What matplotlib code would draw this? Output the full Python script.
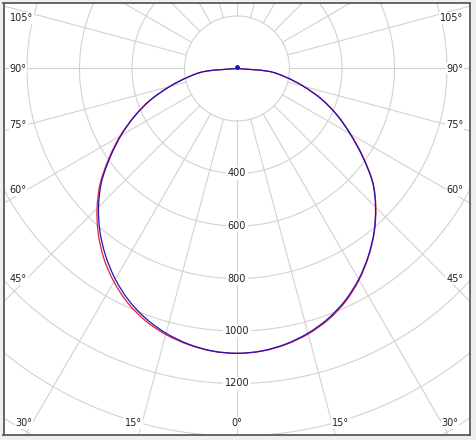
import numpy as np
import matplotlib
matplotlib.use("Agg")
import matplotlib.pyplot as plt
from matplotlib.path import Path
from matplotlib.patches import PathPatch

# ---- data -------------------------------------------------------------
angles = [-90, -85, -80, -75, -70, -65, -60, -55, -50, -45, -40, -35, -30, -25, -20, -15, -10, -5,
          0, 5, 10, 15, 20, 25, 30, 35, 40, 45, 50, 55, 60, 65, 70, 75, 80, 85, 90]
# C90-C270 plane (blue)
blue_cd = [0, 120, 190, 265, 350, 430, 510, 590, 674, 746, 812, 872, 927, 975, 1014, 1044, 1066, 1080,
           1085, 1080, 1066, 1044, 1014, 975, 927, 872, 812, 746, 674, 583, 497, 420, 343, 262, 188, 118, 0]
# C0-C180 plane (red)
red_cd = [0, 118, 190, 266, 352, 432, 514, 595, 680, 754, 822, 884, 938, 985, 1022, 1049, 1068, 1081,
          1085, 1081, 1068, 1047, 1018, 979, 930, 874, 814, 748, 676, 586, 500, 422, 344, 263, 188, 118, 0]
back_angle = 180
back_cd = 6

ring_values = [200, 400, 600, 800, 1000, 1200, 1400, 1600, 1800]
ring_labels = [400, 600, 800, 1000, 1200]
spoke_angles = list(range(0, 360, 15))
angle_labels = [0, 15, 30, 45, 60, 75, 90, 105]

# ---- figure -----------------------------------------------------------
W, H = 476, 440
fig = plt.figure(figsize=(W / 100, H / 100), dpi=100, facecolor="#efefef")
px_left, px_right, px_top, px_bottom = 3.5, 470.0, 3.0, 435.0
ax = fig.add_axes([px_left / W, (H - px_bottom) / H,
                   (px_right - px_left) / W, (px_bottom - px_top) / H])
ax.set_facecolor("white")

scale = 0.2625          # pixels per cd
cx, cy = 237.0, 68.5    # pole position in pixels
ax.set_xlim((px_left - cx) / scale, (px_right - cx) / scale)
ax.set_ylim(-(px_bottom - cy) / scale, (cy - px_top) / scale)
ax.set_aspect("equal", adjustable="box")
ax.set_xticks([])
ax.set_yticks([])
for s in ax.spines.values():
    s.set_color("#5a5a5a")
    s.set_linewidth(1.3)

grid_col = "#d2d2d2"
t = np.linspace(0, 2 * np.pi, 721)
for r in ring_values:
    ax.plot(r * np.sin(t), -r * np.cos(t), color=grid_col, lw=0.8, zorder=1)
r_in, r_out = ring_values[0], 2200
for a in spoke_angles:
    th = np.radians(a)
    ax.plot([r_in * np.sin(th), r_out * np.sin(th)],
            [-r_in * np.cos(th), -r_out * np.cos(th)], color=grid_col, lw=0.8, zorder=1)


def smooth_polar_path(ang_deg, cd):
    """Smooth (Catmull-Rom as cubic Bezier) path through the measured points."""
    th = np.radians(ang_deg)
    cd = np.asarray(cd, float)
    P = np.column_stack([cd * np.sin(th), -cd * np.cos(th)])
    n = len(P)
    verts = [P[0]]
    codes = [Path.MOVETO]
    for i in range(n - 1):
        p0 = P[i - 1] if i > 0 else P[i]
        p1, p2 = P[i], P[i + 1]
        p3 = P[i + 2] if i + 2 < n else P[i + 1]
        verts += [p1 + (p2 - p0) / 6.0, p2 - (p3 - p1) / 6.0, p2]
        codes += [Path.CURVE4] * 3
    return Path(np.array(verts), codes)


ax.add_patch(PathPatch(smooth_polar_path(angles, red_cd), fill=False,
                       ec="#e0203a", lw=0.9, zorder=3))
ax.add_patch(PathPatch(smooth_polar_path(angles, blue_cd), fill=False,
                       ec="#2412b4", lw=0.9, zorder=4))
tb = np.radians(back_angle)
ax.plot([back_cd * np.sin(tb)], [-back_cd * np.cos(tb)], marker="o", ms=2.5,
        color="#2412b4", zorder=5)

fs = 7
txt_col = "#222222"
# radial value labels on 0 deg spoke
for v in ring_labels:
    ax.text(0, -v, str(v), ha="center", va="center", fontsize=fs, color=txt_col,
            bbox=dict(boxstyle="square,pad=0.15", fc="white", ec="none"), zorder=2)

# angle labels
side_x = 211 / scale
bottom_y = -354.2 / scale
top_y = (cy - 18.3) / scale
left_edge = (9.5 - cx) / scale
right_edge = (463.5 - cx) / scale
for a in angle_labels:
    thr = np.radians(a)
    txt = f"{a}°"
    if a == 0:
        ax.text(0, bottom_y, txt, ha="center", va="center", fontsize=fs, color=txt_col,
                bbox=dict(boxstyle="square,pad=0.1", fc="white", ec="none"), zorder=2)
        continue
    if np.cos(thr) > 1e-9 and abs(bottom_y) * np.tan(thr) <= side_x:
        x = abs(bottom_y) * np.tan(thr)
        for sgn in (-1, 1):
            ax.text(sgn * x, bottom_y, txt, ha="right" if sgn < 0 else "left", va="center",
                    fontsize=fs, color=txt_col,
                    bbox=dict(boxstyle="square,pad=0.1", fc="white", ec="none"), zorder=2)
    else:
        y = 0.0 if a == 90 else -side_x / np.tan(thr)
        y = min(y, top_y)
        ax.text(left_edge, y, txt, ha="left", va="center", fontsize=fs, color=txt_col,
                bbox=dict(boxstyle="square,pad=0.1", fc="white", ec="none"), zorder=2)
        ax.text(right_edge, y, txt, ha="right", va="center", fontsize=fs, color=txt_col,
                bbox=dict(boxstyle="square,pad=0.1", fc="white", ec="none"), zorder=2)

fig.savefig("out.png", dpi=100, facecolor=fig.get_facecolor())
